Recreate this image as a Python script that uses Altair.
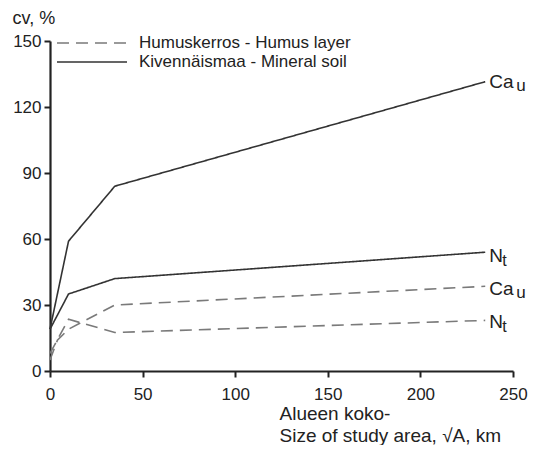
import altair as alt
import pandas as pd

# Data
x_min = [0, 10, 35, 235]
ca_min = [19, 59, 84, 131.5]
n_min = [19, 35, 42, 54]

x_hum_ca = [0, 4, 10, 35, 235]
ca_hum = [5, 14, 19, 30, 38.5]
x_hum_n = [0, 10, 35, 235]
n_hum = [8, 23.5, 17.5, 23]

soil_labels = ["Humuskerros - Humus layer", "Kivennäismaa - Mineral soil"]

rows = []
for x, y in zip(x_min, ca_min):
    rows.append(dict(x=x, y=y, series="min_ca", soil="mineral"))
for x, y in zip(x_min, n_min):
    rows.append(dict(x=x, y=y, series="min_n", soil="mineral"))
for x, y in zip(x_hum_ca, ca_hum):
    rows.append(dict(x=x, y=y, series="hum_ca", soil="humus"))
for x, y in zip(x_hum_n, n_hum):
    rows.append(dict(x=x, y=y, series="hum_n", soil="humus"))
df = pd.DataFrame(rows)

end_labels = pd.DataFrame([
    dict(x=x_min[-1], y=ca_min[-1], main="Ca", sub="u"),
    dict(x=x_min[-1], y=n_min[-1] - 1.5, main="N", sub="t"),
    dict(x=x_hum_ca[-1], y=ca_hum[-1] - 1, main="Ca", sub="u"),
    dict(x=x_hum_n[-1], y=n_hum[-1] - 0.5, main="N", sub="t"),
])

FONT = "Liberation Sans"
SOIL_DOM = ["humus", "mineral"]
SOIL_COL = ["#7a7a7a", "#333333"]
SOIL_DASH = [[12, 7], [1, 0]]

xs = alt.X("x:Q", scale=alt.Scale(domain=[0, 250], nice=False),
           axis=alt.Axis(values=[0, 50, 100, 150, 200, 250],
                         title=["Alueen koko-", "Size of study area,  √A, km"],
                         titleAnchor="start", titleAlign="left", titleX=229, titleY=48,
                         titleBaseline="alphabetic", titleLineHeight=22, titleFontSize=19))
ys = alt.Y("y:Q", scale=alt.Scale(domain=[0, 150], nice=False),
           axis=alt.Axis(values=[0, 30, 60, 90, 120, 150], title="cv, %", titleAngle=0,
                         titleAlign="left", titleX=-38, titleY=-18, titleBaseline="alphabetic",
                         titleFontSize=18))

lines = alt.Chart(df).mark_line(strokeWidth=1.6).encode(
    x=xs, y=ys, detail="series:N",
    color=alt.Color("soil:N", scale=alt.Scale(domain=SOIL_DOM, range=SOIL_COL), legend=None),
    strokeDash=alt.StrokeDash("soil:N", scale=alt.Scale(domain=SOIL_DOM, range=SOIL_DASH), legend=None),
)

main_txt = alt.Chart(end_labels).mark_text(align="left", baseline="middle", dx=4, fontSize=19,
                                           font=FONT, color="#222").encode(
    x="x:Q", y="y:Q", text="main:N")
sub_ca = alt.Chart(end_labels).transform_filter(alt.datum.main == "Ca").mark_text(
    align="left", baseline="middle", fontSize=17, font=FONT, color="#222", dx=31, dy=4).encode(
    x="x:Q", y="y:Q", text="sub:N")
sub_n = alt.Chart(end_labels).transform_filter(alt.datum.main == "N").mark_text(
    align="left", baseline="middle", fontSize=16, font=FONT, color="#222", dx=17, dy=5).encode(
    x="x:Q", y="y:Q", text="sub:N")

# Legend
leg = pd.DataFrame({"label": soil_labels, "soil": SOIL_DOM, "ly": [2, 21]})
leg_lines = alt.Chart(leg).mark_rule(strokeWidth=1.4).encode(
    x=alt.value(7), x2=alt.value(77), y=alt.Y("ly:Q", scale=None),
    color=alt.Color("soil:N", scale=alt.Scale(domain=SOIL_DOM, range=SOIL_COL), legend=None),
    strokeDash=alt.StrokeDash("soil:N", scale=alt.Scale(domain=SOIL_DOM, range=SOIL_DASH), legend=None),
)
leg_text = alt.Chart(leg).mark_text(align="left", baseline="middle", fontSize=17, font=FONT,
                                    color="#222").encode(
    x=alt.value(89), y=alt.Y("ly:Q", scale=None), text="label:N")

chart = alt.layer(lines, main_txt, sub_ca, sub_n, leg_lines, leg_text).properties(
    width=463, height=330,
    autosize=alt.AutoSizeParams(type="none"),
    padding={"left": 42, "top": 33, "right": 17, "bottom": 74},
).configure_view(stroke=None).configure_axis(
    grid=False, domainColor="#222", domainWidth=2.2, tickColor="#222", tickWidth=2, tickSize=6,
    labelFont=FONT, labelFontSize=17, labelColor="#222", labelFlush=False,
    titleFont=FONT, titleFontSize=17, titleColor="#222", titleFontWeight="normal",
).configure_axisX(labelPadding=9).configure_axisY(labelPadding=3)

chart.save("out.html", embed_options={"renderer": "svg", "actions": False})
